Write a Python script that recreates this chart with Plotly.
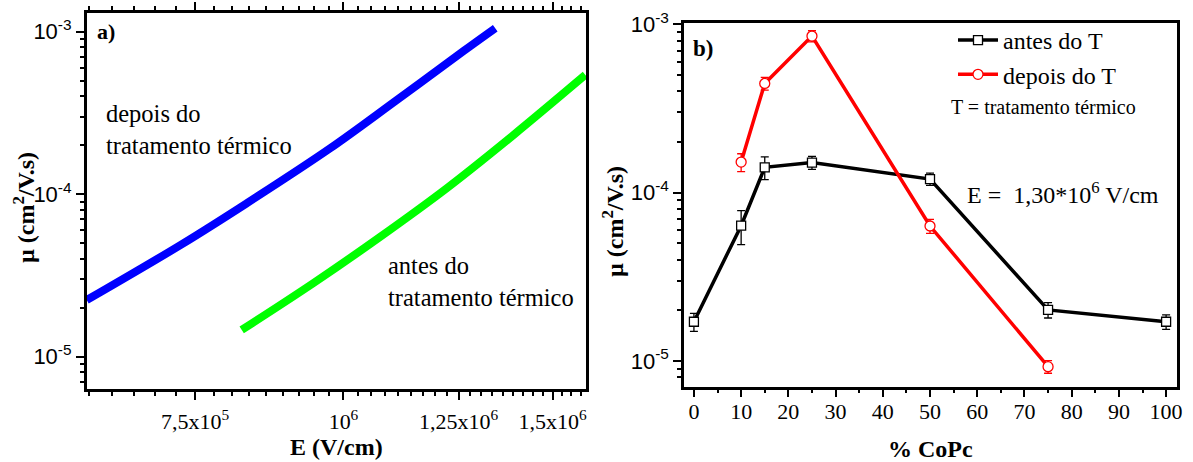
import numpy as np
import plotly.graph_objects as go

# ---------------- data: panel a ----------------
E_depois = [6.08e5, 7.29e5, 8.29e5, 9.745e5, 1.109e6, 1.262e6, 1.342e6]
mu_depois = [2.23e-5, 4.86e-5, 8.79e-5, 1.916e-4, 3.80e-4, 7.6e-4, 1.05e-3]
E_antes = [8.21e5, 9.43e5, 1.074e6, 1.222e6, 1.39e6, 1.598e6]
mu_antes = [1.46e-5, 2.83e-5, 5.47e-5, 1.09e-4, 2.31e-4, 5.42e-4]

# ---------------- data: panel b ----------------
copc_antes = [0, 10, 15, 25, 50, 75, 100]
mu_b_antes = [1.71e-5, 6.37e-5, 1.415e-4, 1.51e-4, 1.206e-4, 2.01e-5, 1.71e-5]
err_b_antes = [2.1e-6, 1.45e-5, 2.2e-5, 1.35e-5, 1.0e-5, 2.1e-6, 1.7e-6]
copc_depois = [10, 15, 25, 50, 75]
mu_b_depois = [1.52e-4, 4.46e-4, 8.53e-4, 6.34e-5, 9.25e-6]
err_b_depois = [1.85e-5, 3.9e-5, 6.5e-5, 6e-6, 8e-7]

# tick labels
xa_tickvals = [7.5e5, 1e6, 1.25e6, 1.5e6]
xa_ticktext = ["7,5x10<sup>5</sup>", "10<sup>6</sup>", "1,25x10<sup>6</sup>", "1,5x10<sup>6</sup>"]
y_tickvals = [1e-5, 1e-4, 1e-3]
y_ticktext = ["10<sup>-5</sup>", "10<sup>-4</sup>", "10<sup>-3</sup>"]

W, H = 1193, 462
SERIF = "Liberation Serif"
SANS = "Liberation Sans"

def px_x(p):
    return p / W

def px_y(p):
    return 1 - p / H

# minor ticks
step = 2.5e5 / 9
xa_minor = [7.5e5 + k * step for k in range(-5, 31) if abs(k) % 9 != 0]
y_minor = [m * 10.0 ** e for e in range(-6, -2) for m in range(2, 10)]

fig = go.Figure()

fig.add_trace(go.Scatter(x=E_depois, y=mu_depois, mode="lines",
                         line=dict(color="#0000ff", width=8, shape="spline", smoothing=1.0),
                         xaxis="x", yaxis="y", showlegend=False))
fig.add_trace(go.Scatter(x=E_antes, y=mu_antes, mode="lines",
                         line=dict(color="#00ff00", width=8, shape="spline", smoothing=1.0),
                         xaxis="x", yaxis="y", showlegend=False))

fig.add_trace(go.Scatter(x=copc_antes, y=mu_b_antes, mode="lines+markers", name="antes do T",
                         line=dict(color="black", width=3.5),
                         marker=dict(symbol="square", size=9, color="white",
                                     line=dict(color="black", width=1.3)),
                         error_y=dict(type="data", array=err_b_antes, color="black",
                                      thickness=1.3, width=4),
                         xaxis="x2", yaxis="y2"))
fig.add_trace(go.Scatter(x=copc_depois, y=mu_b_depois, mode="lines+markers", name="depois do T",
                         line=dict(color="#ff0000", width=3.5),
                         marker=dict(symbol="circle", size=10, color="white",
                                     line=dict(color="#ff0000", width=1.3)),
                         error_y=dict(type="data", array=err_b_depois, color="#ff0000",
                                      thickness=1.3, width=4),
                         xaxis="x2", yaxis="y2"))

axis_common = dict(showline=True, linecolor="black", linewidth=2.5, ticks="outside",
                   tickcolor="black", tickwidth=2, ticklen=8, showgrid=False,
                   zeroline=False, automargin=False)

fig.update_layout(
    width=W, height=H,
    margin=dict(l=0, r=0, t=0, b=0, autoexpand=False),
    paper_bgcolor="white", plot_bgcolor="white",
    xaxis=dict(domain=[px_x(86.7), px_x(586)], type="log",
               range=[np.log10(6.08e5), np.log10(1.6e6)], anchor="y",
               tickmode="array", tickvals=xa_tickvals, ticktext=xa_ticktext,
               tickfont=dict(family=SERIF, size=22, color="black"),
               ticklabelstandoff=3,
               mirror="ticks",
               minor=dict(tickmode="array", tickvals=xa_minor, ticks="outside",
                          ticklen=4, tickwidth=1.5, tickcolor="black"),
               **axis_common),
    yaxis=dict(domain=[px_y(389), px_y(13)], type="log",
               range=[-5.199, -2.885], anchor="x",
               tickmode="array", tickvals=y_tickvals, ticktext=y_ticktext,
               tickfont=dict(family=SANS, size=22, color="black"),
               mirror=True,
               minor=dict(tickmode="array", tickvals=y_minor, ticks="outside",
                          ticklen=4, tickwidth=2, tickcolor="black"),
               **axis_common),
    xaxis2=dict(domain=[px_x(684), px_x(1176.5)], range=[-2.1, 102.2], anchor="y2",
                tickmode="array", tickvals=list(range(0, 101, 10)),
                tickfont=dict(family=SERIF, size=22, color="black"),
                ticklabelstandoff=-5,
                mirror=True,
                minor=dict(tickmode="array", tickvals=list(range(5, 100, 10)),
                           ticks="outside", ticklen=4, tickwidth=2, tickcolor="black"),
                **axis_common),
    yaxis2=dict(domain=[px_y(386.7), px_y(23.3)], type="log",
                range=[-5.153, -2.993], anchor="x2",
                tickmode="array", tickvals=y_tickvals, ticktext=y_ticktext,
                tickfont=dict(family=SANS, size=22, color="black"),
                mirror=True,
                minor=dict(tickmode="array", tickvals=y_minor, ticks="outside",
                           ticklen=4, tickwidth=2, tickcolor="black"),
                **axis_common),
    legend=dict(x=px_x(953), y=px_y(18), xanchor="left", yanchor="top",
                bgcolor="rgba(0,0,0,0)", font=dict(family=SERIF, size=24, color="black"),
                tracegroupgap=0, itemwidth=40),
    showlegend=True,
)

ann = [
    dict(text="<b>a)</b>", x=px_x(95), y=px_y(32), xanchor="left", size=22),
    dict(text="<b>b)</b>", x=px_x(691), y=px_y(48), xanchor="left", size=23),
    dict(text="depois do<br>tratamento térmico", x=px_x(104), y=px_y(129), xanchor="left", size=24.5, align="left"),
    dict(text="antes do<br>tratamento térmico", x=px_x(386), y=px_y(281), xanchor="left", size=24.5, align="left"),
    dict(text="T = tratamento térmico", x=px_x(1043), y=px_y(107), xanchor="center", size=20),
    dict(text="E =  1,30*10<sup>6</sup> V/cm", x=px_x(965), y=px_y(193), xanchor="left", size=24),
    dict(text="<b>E (V/cm)</b>", x=px_x(336), y=px_y(447), xanchor="center", size=24),
    dict(text="<b>% CoPc</b>", x=px_x(930), y=px_y(449), xanchor="center", size=24),
]
for a in ann:
    fig.add_annotation(text=a["text"], x=a["x"], y=a["y"], xref="paper", yref="paper",
                       xanchor=a["xanchor"], yanchor="middle", showarrow=False,
                       align=a.get("align", "center"),
                       font=dict(family=SERIF, size=a["size"], color="black"))

fig.add_annotation(text="<b>µ (cm<sup>2</sup>/V.s)</b>", x=px_x(24), y=px_y(208),
                   xref="paper", yref="paper", textangle=-90, showarrow=False,
                   xanchor="center", yanchor="middle",
                   font=dict(family=SERIF, size=24, color="black"))
fig.add_annotation(text="<b>µ (cm<sup>2</sup>/V.s)</b>", x=px_x(613), y=px_y(222),
                   xref="paper", yref="paper", textangle=-90, showarrow=False,
                   xanchor="center", yanchor="middle",
                   font=dict(family=SERIF, size=24, color="black"))

fig.write_html("out.html")
